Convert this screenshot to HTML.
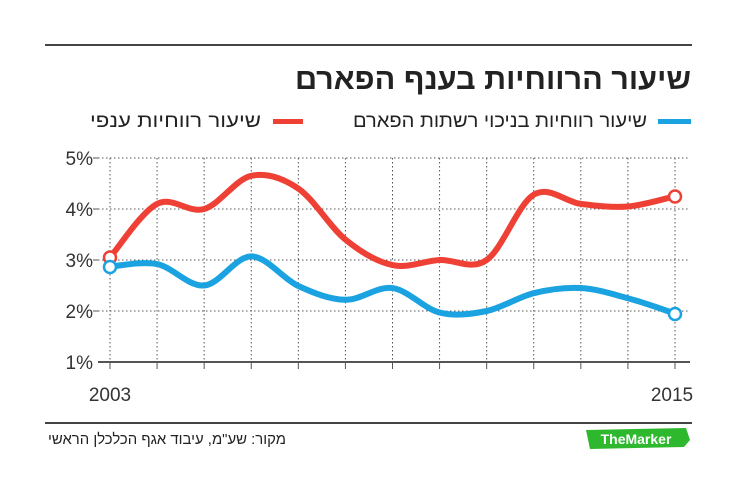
<!DOCTYPE html>
<html><head><meta charset="utf-8"><style>
body{margin:0;background:#fff;width:748px;height:492px;overflow:hidden;font-family:"Liberation Sans","Noto Sans CJK SC",sans-serif}
</style></head><body>
<svg id="s" width="748" height="492" viewBox="0 0 748 492" xmlns="http://www.w3.org/2000/svg" font-family="Liberation Sans, Noto Sans CJK SC, sans-serif">
<line x1="45" y1="45" x2="692" y2="45" stroke="#444" stroke-width="2"/>
<text x="691" y="89" text-anchor="end" font-size="30" font-weight="bold" fill="#222" textLength="396" lengthAdjust="spacingAndGlyphs">שיעור הרווחיות בענף הפארם</text>
<rect x="658" y="119" width="33" height="5" fill="#1aa3e0"/>
<text x="647" y="127" text-anchor="end" font-size="19" fill="#222" textLength="294" lengthAdjust="spacingAndGlyphs">שיעור רווחיות בניכוי רשתות הפארם</text>
<rect x="273" y="119" width="30" height="5" fill="#ef4035"/>
<text x="261" y="127" text-anchor="end" font-size="19" fill="#222" textLength="171" lengthAdjust="spacingAndGlyphs">שיעור רווחיות ענפי</text>
<g id="grid" stroke="#555" stroke-width="1" stroke-dasharray="1.5,2.5"></g>
<line x1="98" y1="362" x2="690" y2="362" stroke="#555" stroke-width="2"/>
<g font-size="19" fill="#333" text-anchor="end">
<text x="93" y="165">5%</text><text x="93" y="216">4%</text><text x="93" y="267">3%</text><text x="93" y="318">2%</text><text x="93" y="369">1%</text>
</g>
<text x="110" y="401" text-anchor="middle" font-size="19" fill="#333">2003</text>
<text x="672" y="401" text-anchor="middle" font-size="19" fill="#333">2015</text>
<path id="red" fill="none" stroke="#ef4035" stroke-width="6" stroke-linecap="round"/>
<path id="blue" fill="none" stroke="#1aa3e0" stroke-width="6" stroke-linecap="round"/>
<circle cx="110" cy="257.5" r="6" fill="#fff" stroke="#ef4035" stroke-width="2.5"/>
<circle cx="675" cy="196.5" r="6" fill="#fff" stroke="#ef4035" stroke-width="2.5"/>
<circle cx="110" cy="267" r="6" fill="#fff" stroke="#1aa3e0" stroke-width="2.5"/>
<circle cx="675" cy="314" r="6" fill="#fff" stroke="#1aa3e0" stroke-width="2.5"/>
<line x1="45" y1="423" x2="692" y2="423" stroke="#444" stroke-width="2"/>
<text x="286" y="444" text-anchor="end" font-size="15" fill="#222" textLength="238" lengthAdjust="spacingAndGlyphs">מקור: שע"מ, עיבוד אגף הכלכלן הראשי</text>
<path d="M586 430 L686 428 L690 440 L684 447 L590 449 Z" fill="#2db82d"/>
<text x="636" y="444" text-anchor="middle" font-size="14" font-weight="bold" fill="#fff">TheMarker</text>
</svg>
<script>
var X=[],i;for(i=0;i<13;i++)X.push(110+i*565/12);
var g=document.getElementById('grid'),h='';
for(i=0;i<13;i++){h+='<line x1="'+X[i]+'" y1="158" x2="'+X[i]+'" y2="362"/><line x1="'+X[i]+'" y1="362" x2="'+X[i]+'" y2="369" stroke-dasharray="none"/>';}
[158,209,260,311].forEach(function(y){h+='<line x1="98" y1="'+y+'" x2="690" y2="'+y+'"/><line x1="93" y1="'+y+'" x2="99" y2="'+y+'" stroke-dasharray="none"/>';});
g.innerHTML=h;
function v2y(v){return 362-(v-1)*51;}
function path(vs){var p=vs.map(function(v,i){return [X[i],v2y(v)]});var d='M'+p[0][0]+' '+p[0][1];
for(var i=0;i<p.length-1;i++){var p0=p[Math.max(0,i-1)],p1=p[i],p2=p[i+1],p3=p[Math.min(p.length-1,i+2)];
d+=' C'+(p1[0]+(p2[0]-p0[0])/6)+' '+(p1[1]+(p2[1]-p0[1])/6)+' '+(p2[0]-(p3[0]-p1[0])/6)+' '+(p2[1]-(p3[1]-p1[1])/6)+' '+p2[0]+' '+p2[1];}
return d;}
document.getElementById('red').setAttribute('d',path([3.05,4.1,4.0,4.65,4.4,3.4,2.9,3.0,3.0,4.28,4.1,4.05,4.25]));
document.getElementById('blue').setAttribute('d',path([2.87,2.92,2.5,3.07,2.49,2.22,2.45,1.97,2.0,2.35,2.45,2.25,1.95]));
</script>
</body></html>
